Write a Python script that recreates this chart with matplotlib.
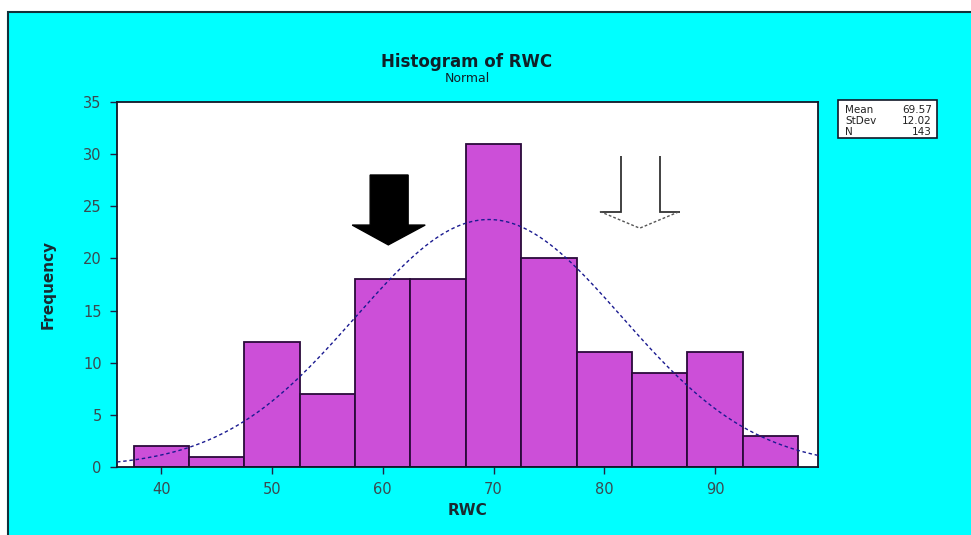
import numpy as np
import matplotlib
matplotlib.use("Agg")
import matplotlib.pyplot as plt
from matplotlib.patches import Rectangle, Polygon

# ---- data ----
bin_centers = [40, 45, 50, 55, 60, 65, 70, 75, 80, 85, 90, 95]
counts = [2, 1, 12, 7, 18, 18, 31, 20, 11, 9, 11, 3]
bin_width = 5
mean_val = 69.57
sd_val = 12.02
n_val = 143
x_ticks = [40, 50, 60, 70, 80, 90]
y_ticks = [0, 5, 10, 15, 20, 25, 30, 35]
stat_labels = ["Mean", "StDev", "N"]
stat_values = ["69.57", "12.02", "143"]

W, H = 971, 535
fig = plt.figure(figsize=(W / 100, H / 100), dpi=100)
fig.patch.set_facecolor("white")

# cyan background panel with dark border (extends past right/bottom edges)
bg = Rectangle((8 / W, -0.02), 1.02 - 8 / W, 1.02 - 12 / H, transform=fig.transFigure,
               facecolor="#00FFFF", edgecolor="#10303a", linewidth=1.5, zorder=-10)
fig.patches.append(bg)

ax = fig.add_axes([117 / W, 1 - 467 / H, (818 - 117) / W, (467 - 102) / H])
ax.set_zorder(1)
ax.set_facecolor("white")

ax.bar(bin_centers, counts, width=bin_width, color="#CC4FD8",
       edgecolor="#2a0a3a", linewidth=1.3, zorder=2)

xlim = (36.0, 99.3)
xs = np.linspace(xlim[0], xlim[1], 400)
pdf = n_val * bin_width / (sd_val * np.sqrt(2 * np.pi)) * np.exp(-0.5 * ((xs - mean_val) / sd_val) ** 2)
ax.plot(xs, pdf, color="#1a1a90", linewidth=1.0, linestyle=(0, (2.5, 2)), zorder=3)

ax.set_xlim(*xlim)
ax.set_ylim(0, 35)
ax.set_xticks(x_ticks)
ax.set_yticks(y_ticks)
ax.tick_params(direction="out", length=5, width=1, color="#222244",
               labelsize=10.5, labelcolor="#3a4a50", pad=6)
for s in ax.spines.values():
    s.set_color("#101828")
    s.set_linewidth(1.3)

ax.set_xlabel("RWC", fontsize=11, fontweight="bold", color="#1a2a30", labelpad=4)
ax.set_ylabel("Frequency", fontsize=11, fontweight="bold", color="#1a2a30", labelpad=20)

# arrows (annotation shapes in data coordinates)
black_arrow = [(58.86, 28.0), (62.29, 28.0), (62.29, 23.2), (63.83, 23.2),
               (60.5, 21.3), (57.24, 23.2), (58.86, 23.2)]
ax.add_patch(Polygon(black_arrow, closed=True, facecolor="black", edgecolor="black", zorder=5))
white_shaft = [(81.5, 29.8), (81.5, 24.5), (79.6, 24.5)]
white_shaft2 = [(86.8, 24.5), (85.0, 24.5), (85.0, 29.8)]
for pts in (white_shaft, white_shaft2):
    ax.add_patch(Polygon(pts, closed=False, fill=False, edgecolor="#333333",
                         linewidth=1.3, zorder=5))
white_head = [(79.6, 24.5), (83.2, 22.9), (86.8, 24.5)]
ax.add_patch(Polygon(white_head, closed=False, fill=False, edgecolor="#555555",
                     linewidth=1.0, linestyle=(0, (2, 1.5)), zorder=5))

# titles
fig.text(467 / W, 1 - 62 / H, "Histogram of RWC", ha="center", va="center",
         fontsize=12, fontweight="bold", color="#102028")
fig.text(467 / W, 1 - 79 / H, "Normal", ha="center", va="center",
         fontsize=9, color="#102028")

# stats box
box = Rectangle((838 / W, 1 - 138 / H), (937 - 838) / W, (138 - 100) / H,
                transform=fig.transFigure, facecolor="white", edgecolor="#101828",
                linewidth=1.2, zorder=4)
fig.patches.append(box)
for i, (lab, val) in enumerate(zip(stat_labels, stat_values)):
    y = 1 - (110 + i * 11) / H
    fig.text(845 / W, y, lab, ha="left", va="center", fontsize=7.5, color="#222222", zorder=5)
    fig.text(932 / W, y, val, ha="right", va="center", fontsize=7.5, color="#222222", zorder=5)

fig.savefig("out.png", dpi=100, facecolor=fig.get_facecolor())
